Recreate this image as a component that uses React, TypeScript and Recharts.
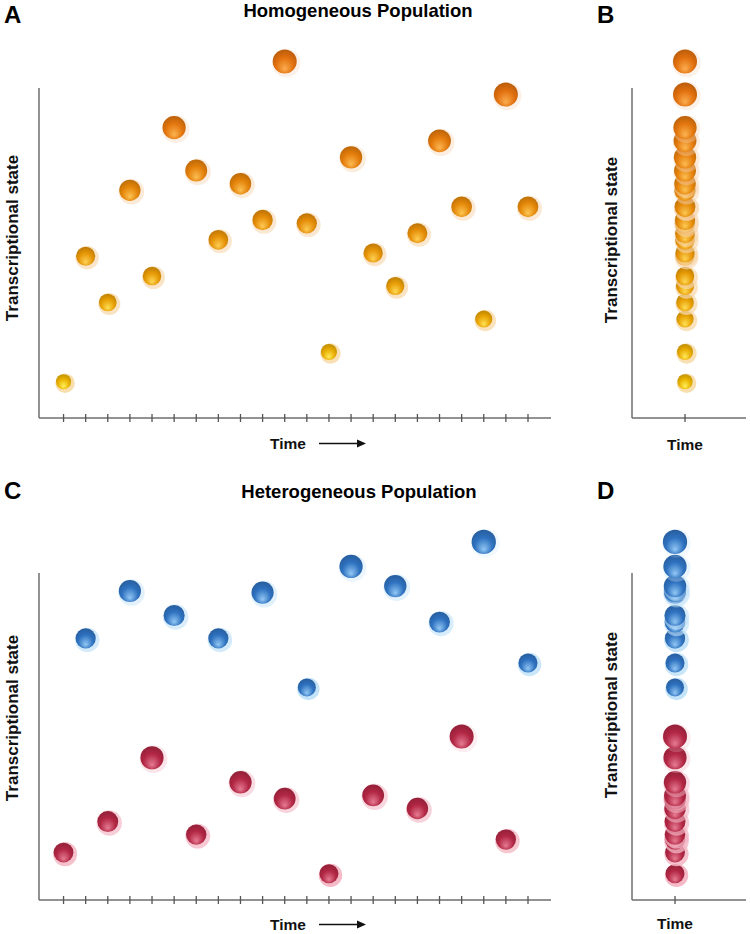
import React from 'react';
import { ScatterChart, Scatter, XAxis, YAxis, ReferenceLine } from 'recharts';

// time ticks along the x axis (22 sampling points)
const timeTicks = [1, 2, 3, 4, 5, 6, 7, 8, 9, 10, 11, 12, 13, 14, 15, 16, 17, 18, 19, 20, 21, 22];

// panel A / B: homogeneous population, one cell per time point
const homogeneousState = [11, 49, 35, 69, 43, 88, 75, 54, 71, 60, 108, 59, 20, 79, 50, 40, 56, 84, 64, 30, 98, 64];

// panel C / D: heterogeneous population, two subpopulations
const blueTimes = [2, 4, 6, 8, 10, 12, 14, 16, 18, 20, 22];
const blueState = [80, 94.5, 87, 80, 94, 65, 102, 96, 85, 109.5, 72.5];
const redTimes = [1, 3, 5, 7, 9, 11, 13, 15, 17, 19, 21];
const redState = [14.5, 24, 43.5, 20, 36, 31, 8, 32, 28, 50, 18.5];

// snapshot position used for the B / D columns
const snapshotTime = [1];

const FONT = '"Liberation Sans", Arial, Helvetica, sans-serif';
const AXIS = '#6e6e6e';

type Tone = 'amber' | 'blue' | 'red';
interface Pt { t: number; s: number; tone: Tone; key: string }

function hex(c: string) {
    return [1, 3, 5].map(i => parseInt(c.slice(i, i + 2), 16));
}
function mix(a: string, b: string, f: number) {
    const A = hex(a), B = hex(b);
    return '#' + A.map((v, i) => Math.round(v + (B[i] - v) * f).toString(16).padStart(2, '0')).join('');
}
const clamp = (v: number) => Math.max(0, Math.min(1, v));

function ballStyle(p: Pt) {
    if (p.tone === 'amber') {
        const f = clamp((p.s - 10) / 85);
        return {
            r: 7.5 + 4.5 * f,
            base: mix('#eab400', '#e2700e', f),
            light: mix('#fff25a', '#fbae50', f),
            halo: mix('#f8dca8', '#f6d2b4', f),
            haloOp: 0.95 - 0.65 * f,
        };
    }
    if (p.tone === 'blue') {
        const f = clamp((p.s - 65) / 45);
        return { r: 9 + 3.2 * f, base: '#2f72c0', light: '#92c8f4', halo: '#bfe1f8', haloOp: 0.95 - 0.75 * f };
    }
    const f = clamp((p.s - 8) / 42);
    return { r: 9.5 + 2.5 * f, base: '#b22744', light: '#e67c92', halo: '#f3b6c4', haloOp: 0.95 - 0.7 * f };
}

function Ball(props: any) {
    const { cx, cy, payload } = props;
    if (cx == null || cy == null || !payload) return null;
    const p = payload as Pt;
    const st = ballStyle(p);
    const id = `ball-${p.key}`;
    const rim = mix(st.base, '#000000', 0.18);
    return (
        <g>
            <defs>
                <radialGradient id={id} cx="50%" cy="60%" r="60%" fx="50%" fy="82%">
                    <stop offset="0%" stopColor={st.light} />
                    <stop offset="60%" stopColor={st.base} />
                    <stop offset="100%" stopColor={rim} />
                </radialGradient>
            </defs>
            <circle cx={cx + 1.5} cy={cy + 1.5} r={st.r + 2.2} fill={st.halo} opacity={st.haloOp} />
            <circle cx={cx} cy={cy} r={st.r} fill={`url(#${id})`} />
        </g>
    );
}

const TickMark = (props: any) => {
    const { x, y } = props;
    return <line x1={x} x2={x} y1={y - 4} y2={y + 4} stroke="#555" strokeWidth={1.3} />;
};

interface PanelProps {
    left: number;
    top: number;
    width: number;
    height: number;
    margin: { top: number; right: number; bottom: number; left: number };
    xDomain: [number, number];
    ticks: number[];
    yMax: number;
    axisTop: number;
    series: Pt[][];
}

function Panel({ left, top, width, height, margin, xDomain, ticks, yMax, axisTop, series }: PanelProps) {
    return (
        <div style={{ position: 'absolute', left, top, width, height }}>
            <ScatterChart width={width} height={height} margin={margin}>
                <XAxis
                    type="number"
                    dataKey="t"
                    domain={xDomain}
                    ticks={ticks}
                    interval={0}
                    tick={<TickMark />}
                    tickLine={false}
                    tickSize={0}
                    tickMargin={0}
                    height={30}
                    axisLine={{ stroke: AXIS, strokeWidth: 1.5 }}
                />
                <YAxis type="number" dataKey="s" domain={[0, yMax]} hide width={0} />
                <ReferenceLine
                    segment={[{ x: xDomain[0], y: 0 }, { x: xDomain[0], y: axisTop }]}
                    stroke={AXIS}
                    strokeWidth={1.5}
                />
                {series.map((d, i) => (
                    <Scatter key={i} data={d} shape={Ball} isAnimationActive={false} />
                ))}
            </ScatterChart>
        </div>
    );
}

function TimeLabel({ x, y, arrow }: { x: number; y: number; arrow?: boolean }) {
    return (
        <g>
            <text x={x} y={y} fontFamily={FONT} fontWeight="bold" fontSize={15.5} textAnchor={arrow ? 'start' : 'middle'} fill="#111">
                Time
            </text>
            {arrow && (
                <g>
                    <line x1={x + 49} x2={x + 90} y1={y - 5.5} y2={y - 5.5} stroke="#111" strokeWidth={1.6} />
                    <path d={`M${x + 96} ${y - 5.5} L${x + 87} ${y - 9.5} L${x + 87} ${y - 1.5} Z`} fill="#111" />
                </g>
            )}
        </g>
    );
}

function YLabel({ x, y }: { x: number; y: number }) {
    return (
        <text
            x={x}
            y={y}
            transform={`rotate(-90 ${x} ${y})`}
            fontFamily={FONT}
            fontWeight="bold"
            fontSize={17}
            textAnchor="middle"
            fill="#111"
        >
            Transcriptional state
        </text>
    );
}

export default function App() {
    const homA: Pt[] = homogeneousState.map((s, i) => ({ t: timeTicks[i], s, tone: 'amber', key: `a${i}` }));
    const homB: Pt[] = homogeneousState.map((s, i) => ({ t: snapshotTime[0], s, tone: 'amber', key: `b${i}` }));
    const blueC: Pt[] = blueState.map((s, i) => ({ t: blueTimes[i], s, tone: 'blue', key: `cb${i}` }));
    const redC: Pt[] = redState.map((s, i) => ({ t: redTimes[i], s, tone: 'red', key: `cr${i}` }));
    const blueD: Pt[] = blueState.map((s, i) => ({ t: snapshotTime[0], s, tone: 'blue', key: `db${i}` }));
    const redD: Pt[] = redState.map((s, i) => ({ t: snapshotTime[0], s, tone: 'red', key: `dr${i}` }));

    // draw the column stacks from bottom to top so upper cells overlap lower ones
    const byState = (a: Pt, b: Pt) => a.s - b.s;

    return (
        <div style={{ position: 'absolute', left: 0, top: 0, width: 750, height: 934, background: '#fff' }}>
            <Panel
                left={0} top={0} width={560} height={460}
                margin={{ top: 22, right: 9, bottom: 12, left: 39 }}
                xDomain={[-0.11, 23.04]} ticks={timeTicks} yMax={120} axisTop={100}
                series={[homA]}
            />
            <Panel
                left={560} top={0} width={190} height={460}
                margin={{ top: 22, right: 4, bottom: 12, left: 72 }}
                xDomain={[0, 2.15]} ticks={snapshotTime} yMax={120} axisTop={100}
                series={[[...homB].sort(byState)]}
            />
            <Panel
                left={0} top={470} width={560} height={464}
                margin={{ top: 37.6, right: 9, bottom: 4, left: 39 }}
                xDomain={[-0.11, 23.04]} ticks={timeTicks} yMax={120} axisTop={100}
                series={[blueC, redC]}
            />
            <Panel
                left={560} top={470} width={190} height={464}
                margin={{ top: 37.6, right: 4, bottom: 4, left: 72 }}
                xDomain={[0, 2.65]} ticks={snapshotTime} yMax={120} axisTop={100}
                series={[[...redD].sort(byState), [...blueD].sort(byState)]}
            />
            <svg width={750} height={934} style={{ position: 'absolute', left: 0, top: 0, pointerEvents: 'none' }}>
                <text x={4} y={23} fontFamily={FONT} fontWeight="bold" fontSize={24} fill="#000">A</text>
                <text x={597} y={23} fontFamily={FONT} fontWeight="bold" fontSize={24} fill="#000">B</text>
                <text x={4} y={499} fontFamily={FONT} fontWeight="bold" fontSize={24} fill="#000">C</text>
                <text x={597} y={499} fontFamily={FONT} fontWeight="bold" fontSize={24} fill="#000">D</text>
                <text x={358} y={17} fontFamily={FONT} fontWeight="bold" fontSize={18.5} textAnchor="middle" fill="#000">
                    Homogeneous Population
                </text>
                <text x={359} y={498} fontFamily={FONT} fontWeight="bold" fontSize={18.5} textAnchor="middle" fill="#000">
                    Heterogeneous Population
                </text>
                <YLabel x={18} y={238} />
                <YLabel x={617} y={240} />
                <YLabel x={18} y={718} />
                <YLabel x={617} y={715} />
                <TimeLabel x={270} y={449} arrow />
                <TimeLabel x={685} y={450} />
                <TimeLabel x={270} y={930} arrow />
                <TimeLabel x={675} y={929} />
            </svg>
        </div>
    );
}
